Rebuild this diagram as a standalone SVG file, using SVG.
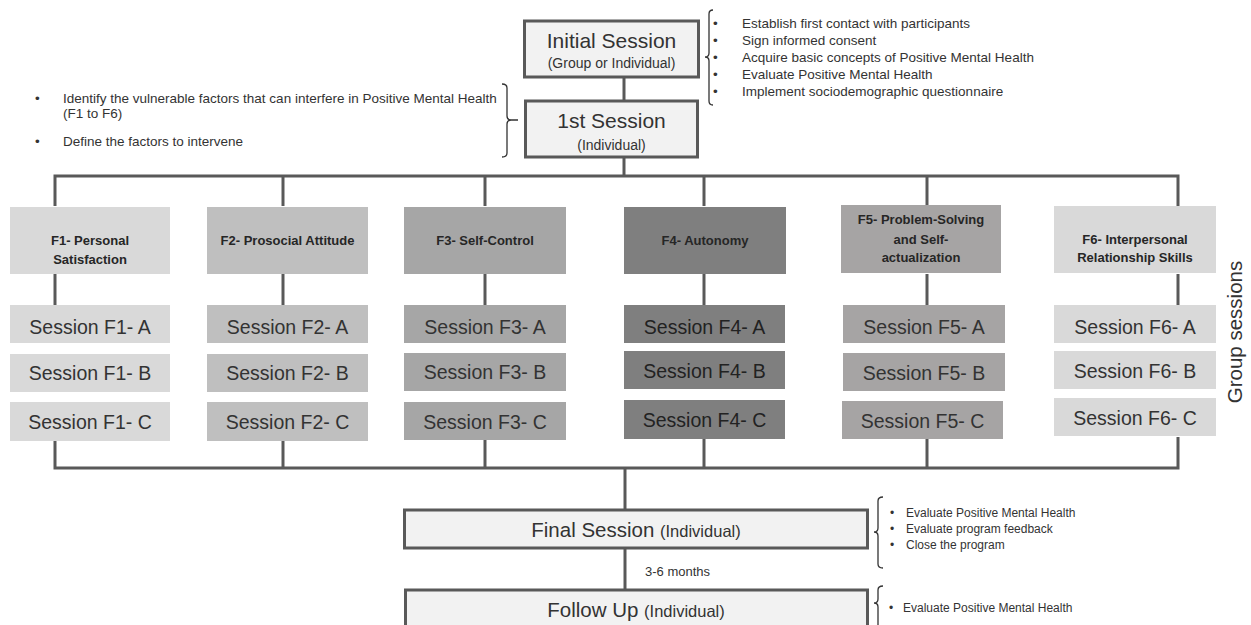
<svg xmlns="http://www.w3.org/2000/svg" width="1251" height="625" viewBox="0 0 1251 625">
<style>
.bg{fill:#ffffff}
.main{fill:#f2f2f2;stroke:#595959;stroke-width:3}
.conn{stroke:#595959;stroke-width:3;fill:none}
.br{stroke:#333333;stroke-width:1.3;fill:none}
.t{font-family:"Liberation Sans",Arial,sans-serif;fill:#333333}
.big{font-size:21px}
.sub{font-size:14px}
.fl{font-size:13px;font-weight:bold;fill:#262626;text-anchor:middle}
.ss{font-size:19.5px;text-anchor:middle}
.li{font-size:13.5px}
.ls{font-size:12px}
.c1{fill:#d9d9d9}.c2{fill:#bfbfbf}.c3{fill:#a6a6a6}.c4{fill:#7f7f7f}.c5{fill:#a6a4a4}.c6{fill:#d9d9d9}
</style>
<rect class="bg" x="0" y="0" width="1251" height="625"/>

<g id="connectors">
<line class="conn" x1="624" y1="78" x2="624" y2="100"/>
<line class="conn" x1="624" y1="158" x2="624" y2="176"/>
<polyline class="conn" points="55,206 55,176 1178,176 1178,206"/>
<line class="conn" x1="283" y1="176" x2="283" y2="206"/>
<line class="conn" x1="485" y1="176" x2="485" y2="206"/>
<line class="conn" x1="704" y1="176" x2="704" y2="206"/>
<line class="conn" x1="927" y1="176" x2="927" y2="206"/>
<line class="conn" x1="55" y1="274" x2="55" y2="305"/>
<line class="conn" x1="283" y1="274" x2="283" y2="305"/>
<line class="conn" x1="485" y1="274" x2="485" y2="305"/>
<line class="conn" x1="704" y1="274" x2="704" y2="305"/>
<line class="conn" x1="927" y1="274" x2="927" y2="305"/>
<line class="conn" x1="1178" y1="274" x2="1178" y2="305"/>
<polyline class="conn" points="55,440 55,468 1178,468 1178,437"/>
<line class="conn" x1="283" y1="440" x2="283" y2="468"/>
<line class="conn" x1="485" y1="440" x2="485" y2="468"/>
<line class="conn" x1="704" y1="439" x2="704" y2="468"/>
<line class="conn" x1="927" y1="439" x2="927" y2="468"/>
<line class="conn" x1="625" y1="468" x2="625" y2="509"/>
<line class="conn" x1="625" y1="548" x2="625" y2="589"/>
</g>

<g id="initial">
<rect class="main" x="524.5" y="21" width="174" height="56"/>
<text class="t big" x="611.5" y="48" text-anchor="middle">Initial Session</text>
<text class="t sub" x="611.5" y="68" text-anchor="middle">(Group or Individual)</text>
</g>
<g id="initial-notes">
<path class="br" d="M713,10 Q709,10 709,14 L709,53 Q709,57 705,57 Q709,57 709,61 L709,101 Q709,105 713,105"/>
<text class="t li" x="713" y="27.5">•</text><text class="t li" x="742" y="27.5">Establish first contact with participants</text>
<text class="t li" x="713" y="45">•</text><text class="t li" x="742" y="45">Sign informed consent</text>
<text class="t li" x="713" y="62">•</text><text class="t li" x="742" y="62">Acquire basic concepts of Positive Mental Health</text>
<text class="t li" x="713" y="79">•</text><text class="t li" x="742" y="79">Evaluate Positive Mental Health</text>
<text class="t li" x="713" y="96">•</text><text class="t li" x="742" y="96">Implement sociodemographic questionnaire</text>
</g>

<g id="first">
<rect class="main" x="525.5" y="101" width="172" height="56"/>
<text class="t big" x="611.5" y="128" text-anchor="middle">1st Session</text>
<text class="t sub" x="611.5" y="150" text-anchor="middle">(Individual)</text>
</g>
<g id="first-notes">
<path class="br" d="M502,84 Q507,84 507,88 L507,116 Q507,120 511,120 L518,120 M511,120 Q507,120 507,124 L507,153 Q507,157 502,157"/>
<text class="t li" x="35" y="102.5">•</text><text class="t li" x="63" y="102.5">Identify the vulnerable factors that can interfere in Positive Mental Health</text>
<text class="t li" x="63" y="118">(F1 to F6)</text>
<text class="t li" x="35" y="145.5">•</text><text class="t li" x="63" y="145.5">Define the factors to intervene</text>
</g>

<g id="f1">
<rect class="c1" x="10" y="207" width="160" height="67"/>
<text class="t fl" x="90" y="245">F1- Personal</text>
<text class="t fl" x="90" y="264">Satisfaction</text>
<rect class="c1" x="10" y="305" width="160" height="38"/><text class="t ss" x="90" y="334">Session F1- A</text>
<rect class="c1" x="10" y="354" width="160" height="38"/><text class="t ss" x="90" y="380">Session F1- B</text>
<rect class="c1" x="10" y="402" width="160" height="39"/><text class="t ss" x="90" y="429">Session F1- C</text>
</g>
<g id="f2">
<rect class="c2" x="207" y="207" width="161" height="67"/>
<text class="t fl" x="287.5" y="245">F2- Prosocial Attitude</text>
<rect class="c2" x="207" y="305" width="161" height="38"/><text class="t ss" x="287.5" y="334">Session F2- A</text>
<rect class="c2" x="207" y="354" width="161" height="38"/><text class="t ss" x="287.5" y="380">Session F2- B</text>
<rect class="c2" x="207" y="402" width="161" height="39"/><text class="t ss" x="287.5" y="429">Session F2- C</text>
</g>
<g id="f3">
<rect class="c3" x="404" y="207" width="162" height="67"/>
<text class="t fl" x="485" y="245">F3- Self-Control</text>
<rect class="c3" x="404" y="305" width="162" height="38"/><text class="t ss" x="485" y="334">Session F3- A</text>
<rect class="c3" x="404" y="353" width="162" height="38"/><text class="t ss" x="485" y="379">Session F3- B</text>
<rect class="c3" x="404" y="402" width="162" height="38"/><text class="t ss" x="485" y="429">Session F3- C</text>
</g>
<g id="f4">
<rect class="c4" x="624" y="207" width="162" height="67"/>
<text class="t fl" x="705" y="245">F4- Autonomy</text>
<rect class="c4" x="624" y="305" width="161" height="38"/><text class="t ss" x="704.5" y="334" style="fill:#222222">Session F4- A</text>
<rect class="c4" x="624" y="351" width="161" height="38"/><text class="t ss" x="704.5" y="378" style="fill:#222222">Session F4- B</text>
<rect class="c4" x="624" y="400" width="161" height="39"/><text class="t ss" x="704.5" y="427" style="fill:#222222">Session F4- C</text>
</g>
<g id="f5">
<rect class="c5" x="841" y="205" width="160" height="68"/>
<text class="t fl" x="921" y="224">F5- Problem-Solving</text>
<text class="t fl" x="921" y="244">and Self-</text>
<text class="t fl" x="921" y="262">actualization</text>
<rect class="c5" x="843" y="305" width="162" height="38"/><text class="t ss" x="924" y="334">Session F5- A</text>
<rect class="c5" x="843" y="353" width="162" height="38"/><text class="t ss" x="924" y="380">Session F5- B</text>
<rect class="c5" x="842" y="401" width="161" height="38"/><text class="t ss" x="922.5" y="428">Session F5- C</text>
</g>
<g id="f6">
<rect class="c6" x="1054" y="206" width="162" height="67"/>
<text class="t fl" x="1135" y="244">F6-  Interpersonal</text>
<text class="t fl" x="1135" y="262">Relationship Skills</text>
<rect class="c6" x="1054" y="305" width="162" height="38"/><text class="t ss" x="1135" y="334">Session F6- A</text>
<rect class="c6" x="1054" y="351" width="162" height="38"/><text class="t ss" x="1135" y="378">Session F6- B</text>
<rect class="c6" x="1054" y="398" width="162" height="38"/><text class="t ss" x="1135" y="425">Session F6- C</text>
</g>

<g id="group-label">
<text class="t" x="0" y="0" font-size="20.5" text-anchor="middle" transform="translate(1242,332) rotate(-90)">Group sessions</text>
</g>

<g id="final">
<rect class="main" x="404.5" y="510" width="463" height="38"/>
<text class="t" x="636" y="537" text-anchor="middle"><tspan font-size="20.5">Final Session </tspan><tspan font-size="16.5">(Individual)</tspan></text>
</g>
<g id="final-notes">
<path class="br" d="M883,497 Q878,497 878,501 L878,528 Q878,532 874,532 Q878,532 878,536 L878,564 Q878,568 883,568"/>
<text class="t ls" x="890" y="517">•</text><text class="t ls" x="906" y="517">Evaluate Positive Mental Health</text>
<text class="t ls" x="890" y="533">•</text><text class="t ls" x="906" y="533">Evaluate program feedback</text>
<text class="t ls" x="890" y="549">•</text><text class="t ls" x="906" y="549">Close the program</text>
</g>

<g id="interval">
<text class="t" x="645" y="576" font-size="13">3-6 months</text>
</g>

<g id="followup">
<rect class="main" x="405.5" y="590" width="462" height="50"/>
<text class="t" x="636" y="617" text-anchor="middle"><tspan font-size="20.5">Follow Up </tspan><tspan font-size="16.5">(Individual)</tspan></text>
</g>
<g id="followup-notes">
<path class="br" d="M883,586 Q878,586 878,590 L878,599 Q878,603 874,603 Q878,603 878,607 L878,630"/>
<text class="t ls" x="889" y="612">•</text><text class="t ls" x="903" y="612">Evaluate Positive Mental Health</text>
</g>
</svg>
